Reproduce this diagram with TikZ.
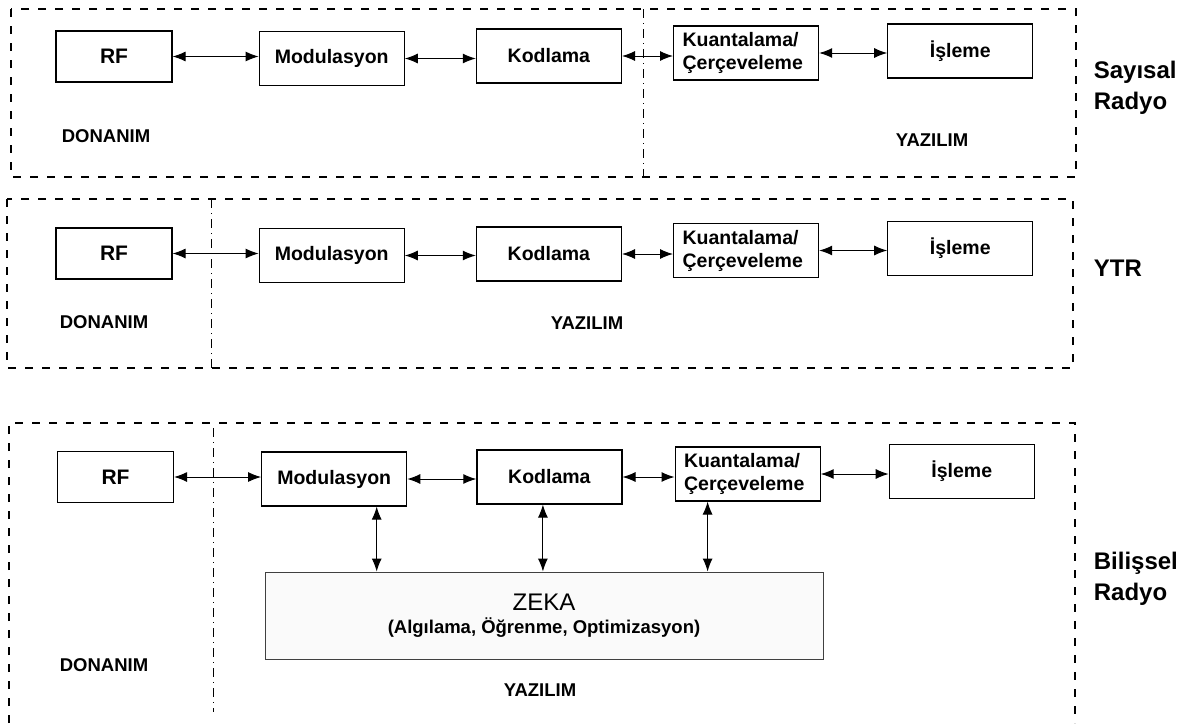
\documentclass[tikz,border=0pt]{standalone}
\usepackage{fontspec}
\setmainfont{Liberation Sans}
\usetikzlibrary{positioning,arrows.meta}

\tikzset{
  blok/.style={draw,line width=1.2pt,minimum width=145pt,minimum height=54pt,inner sep=4pt,font=\bfseries\fontsize{19.5}{23}\selectfont},
  rfblok/.style={blok,minimum width=116pt,minimum height=51pt,font=\bfseries\fontsize{21}{25}\selectfont},
  kuanblok/.style={blok,text width=127pt,align=left},
  etiket/.style={font=\bfseries\fontsize{18.5}{22}\selectfont},
  yan/.style={anchor=west,align=left,font=\bfseries\fontsize{24}{31}\selectfont},
  cerceve/.style={dash pattern=on 8pt off 9pt,line width=1.2pt},
  ayrac/.style={dash pattern=on 9pt off 5pt on 1pt off 5pt,line width=1pt},
}

\begin{document}
\begin{tikzpicture}[x=1pt,y=-1pt,>={Latex[length=13pt,width=10pt]},line width=1pt]
\useasboundingbox (0,0) rectangle (1188,723);

% Sayisal Radyo
\draw[cerceve] (11,9) rectangle (1076,177);
\draw[ayrac] (643,9) -- (643,177);
\node[rfblok](rf1) at (114,56.5) {RF};
\node[blok](mod1)[right=86pt of rf1,yshift=-2pt] {Modulasyon};
\node[blok](kod1)[right=71pt of mod1,yshift=2.5pt] {Kodlama};
\node[kuanblok](kuan1)[right=51pt of kod1,yshift=3pt] {Kuantalama/\\Çerçeveleme};
\node[blok](isl1)[right=68pt of kuan1,yshift=2pt] {İşleme};
\node[etiket](don1) at (106,136) {DONANIM};
\node[etiket](yaz1) at (932,140) {YAZILIM};
\node[yan](ad1) at (1090,87.5) {Sayısal\\Radyo};

\draw[<->] (rf1.east) -- (rf1.east -| mod1.west);
\draw[<->] (mod1.east) -- (mod1.east -| kod1.west);
\draw[<->] (kod1.east) -- (kod1.east -| kuan1.west);
\draw[<->] (kuan1.east) -- (kuan1.east -| isl1.west);

% YTR
\draw[cerceve] (7,199) rectangle (1073,368);
\draw[ayrac] (211,199) -- (211,368);
\node[rfblok](rf2) at (114,253.5) {RF};
\node[blok](mod2)[right=86pt of rf2,yshift=-2pt] {Modulasyon};
\node[blok](kod2)[right=71pt of mod2,yshift=1.5pt] {Kodlama};
\node[kuanblok](kuan2)[right=51pt of kod2,yshift=3.5pt] {Kuantalama/\\Çerçeveleme};
\node[blok](isl2)[right=68pt of kuan2,yshift=2pt] {İşleme};
\node[etiket](don2) at (104,322) {DONANIM};
\node[etiket](yaz2) at (587,323) {YAZILIM};
\node[yan](ad2) at (1090,268) {YTR};

\draw[<->] (rf2.east) -- (rf2.east -| mod2.west);
\draw[<->] (mod2.east) -- (mod2.east -| kod2.west);
\draw[<->] (kod2.east) -- (kod2.east -| kuan2.west);
\draw[<->] (kuan2.east) -- (kuan2.east -| isl2.west);

% Bilissel Radyo
\draw[cerceve] (9,723) -- (9,423) -- (1075,423) -- (1075,723);
\draw[ayrac] (213,428) -- (213,712);
\node[rfblok](rf3) at (115.5,477) {RF};
\node[blok](mod3)[right=87pt of rf3,yshift=-2pt] {Modulasyon};
\node[blok](kod3)[right=69pt of mod3,yshift=2pt] {Kodlama};
\node[kuanblok](kuan3)[right=52pt of kod3,yshift=3pt] {Kuantalama/\\Çerçeveleme};
\node[blok](isl3)[right=68pt of kuan3,yshift=2.5pt] {İşleme};
\node[draw=black!75,line width=1pt,fill=black!2,minimum width=558pt,minimum height=87pt,align=center](zeka) at (544,615.5)
  {{\fontsize{24}{27}\selectfont ZEKA}\\[6pt]{\bfseries\fontsize{18.5}{23}\selectfont (Algılama, Öğrenme, Optimizasyon)}};
\node[etiket](don3) at (104,665) {DONANIM};
\node[etiket](yaz3) at (540,690) {YAZILIM};
\node[yan](ad3) at (1090,579) {Bilişsel\\Radyo};

\draw[<->] (rf3.east) -- (rf3.east -| mod3.west);
\draw[<->] (mod3.east) -- (mod3.east -| kod3.west);
\draw[<->] (kod3.east) -- (kod3.east -| kuan3.west);
\draw[<->] (kuan3.east) -- (kuan3.east -| isl3.west);
\draw[<->] ([xshift=42.5pt]mod3.south) -- ([xshift=42.5pt]mod3.south |- zeka.north);
\draw[<->] ([xshift=-6.5pt]kod3.south) -- ([xshift=-6.5pt]kod3.south |- zeka.north);
\draw[<->] ([xshift=-40pt]kuan3.south) -- ([xshift=-40pt]kuan3.south |- zeka.north);

\end{tikzpicture}
\end{document}
